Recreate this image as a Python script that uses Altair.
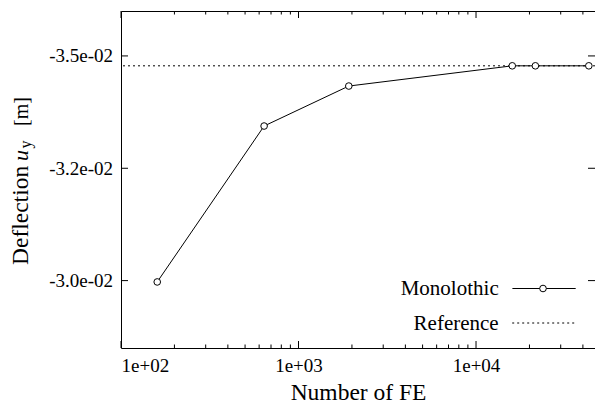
import altair as alt
import pandas as pd

# ---- data ----
n_fe = [160, 640, 1920, 16000, 21600, 43200]
deflection = [-0.02997, -0.03344, -0.03433, -0.03478, -0.03478, -0.03478]
reference_value = -0.03478

x_tick_values = [100, 1000, 10000]
x_tick_labels = ["1e+02", "1e+03", "1e+04"]
x_minor_values = [200, 300, 400, 500, 600, 700, 800, 900,
                  2000, 3000, 4000, 5000, 6000, 7000, 8000, 9000,
                  20000, 30000, 40000]
y_tick_values = [-0.035, -0.0325, -0.030]
y_tick_labels = ["-3.5e-02", "-3.2e-02", "-3.0e-02"]

legend_labels = ["Monolothic", "Reference"]

FONT = "Liberation Serif"
W, H = 474, 337


def label_expr(values, labels):
    expr = "''"
    for v, l in reversed(list(zip(values, labels))):
        expr = f"abs(datum.value - ({v})) < 1e-9 ? '{l}' : ({expr})"
    return expr


xscale = alt.Scale(type="log", domain=[100, 46800], nice=False)
yscale = alt.Scale(domain=[-0.0285, -0.036], nice=False, zero=False)

xaxis = alt.Axis(values=x_tick_values, labelExpr=label_expr(x_tick_values, x_tick_labels),
                 ticks=False, domain=False, grid=False, labelFont=FONT, labelFontSize=19,
                 labelColor="black", labelBaseline="alphabetic", labelPadding=23,
                 title="Number of FE", titleFont=FONT, titleFontSize=23.5,
                 titleFontWeight="normal", titleColor="black",
                 titleBaseline="alphabetic", titleY=51)
yaxis = alt.Axis(values=y_tick_values, labelExpr=label_expr(y_tick_values, y_tick_labels),
                 ticks=False, domain=False, grid=False, labelFont=FONT, labelFontSize=19,
                 labelColor="black", labelPadding=8.5, title=None)

df = pd.DataFrame({"x": n_fe, "y": deflection})

line = alt.Chart(df).mark_line(color="black", strokeWidth=1).encode(
    x=alt.X("x:Q", scale=xscale, axis=xaxis),
    y=alt.Y("y:Q", scale=yscale, axis=yaxis),
)
points = alt.Chart(df).mark_point(shape="circle", filled=False, fill="white", fillOpacity=1,
                                  stroke="black", strokeWidth=1, size=44, opacity=1).encode(
    x=alt.X("x:Q", scale=xscale),
    y=alt.Y("y:Q", scale=yscale),
)
ref = alt.Chart(pd.DataFrame({"y": [reference_value]})).mark_rule(
    color="black", strokeWidth=1, strokeDash=[2, 3]).encode(
    y=alt.Y("y:Q", scale=yscale),
)

xmaj = pd.DataFrame({"x": x_tick_values})
xmin = pd.DataFrame({"x": x_minor_values})
ymaj = pd.DataFrame({"y": y_tick_values})


def xticks(data, length):
    bottom = alt.Chart(data).mark_rule(color="black", strokeWidth=1).encode(
        x=alt.X("x:Q", scale=xscale), y=alt.value(H), y2=alt.value(H - length))
    top = alt.Chart(data).mark_rule(color="black", strokeWidth=1).encode(
        x=alt.X("x:Q", scale=xscale), y=alt.value(0), y2=alt.value(length))
    return [bottom, top]


def yticks(data, length):
    left = alt.Chart(data).mark_rule(color="black", strokeWidth=1).encode(
        y=alt.Y("y:Q", scale=yscale), x=alt.value(0), x2=alt.value(length))
    right = alt.Chart(data).mark_rule(color="black", strokeWidth=1).encode(
        y=alt.Y("y:Q", scale=yscale), x=alt.value(W), x2=alt.value(W - length))
    return [left, right]


tick_layers = xticks(xmaj, 7) + xticks(xmin, 3.5) + yticks(ymaj, 7)

# ---- legend ----
LX = 377.7
ROW1, ROW2 = 277.5, 312
leg_text1 = alt.Chart(pd.DataFrame({"label": [legend_labels[0]]})).mark_text(
    font=FONT, fontSize=21, align="right", baseline="alphabetic", color="black").encode(
    text="label:N", x=alt.value(LX), y=alt.value(ROW1 + 6.5))
leg_text2 = alt.Chart(pd.DataFrame({"label": [legend_labels[1]]})).mark_text(
    font=FONT, fontSize=21, align="right", baseline="alphabetic", color="black").encode(
    text="label:N", x=alt.value(LX), y=alt.value(ROW2 + 6.5))
leg_line1 = alt.Chart(pd.DataFrame({"label": [legend_labels[0]]})).mark_rule(
    color="black", strokeWidth=1).encode(
    x=alt.value(LX + 13.7), x2=alt.value(LX + 77), y=alt.value(ROW1))
leg_pt1 = alt.Chart(pd.DataFrame({"label": [legend_labels[0]]})).mark_point(
    shape="circle", filled=False, fill="white", fillOpacity=1, stroke="black",
    strokeWidth=1, size=44, opacity=1).encode(x=alt.value(LX + 44.3), y=alt.value(ROW1))
leg_line2 = alt.Chart(pd.DataFrame({"label": [legend_labels[1]]})).mark_rule(
    color="black", strokeWidth=1, strokeDash=[2, 3]).encode(
    x=alt.value(LX + 13.5), x2=alt.value(LX + 76), y=alt.value(ROW2))


# ---- y title with italic u and subscript y ----
def ytitle_piece(text, ypos, xpos, size, style="normal"):
    return alt.Chart(pd.DataFrame({"t": [text]})).mark_text(
        font=FONT, fontSize=size, fontStyle=style, angle=270, align="left",
        baseline="alphabetic", color="black").encode(
        text="t:N", x=alt.value(xpos), y=alt.value(ypos))


ytitle = [
    ytitle_piece("Deflection", 254, -93, 23.5),
    ytitle_piece("u", 150, -93, 22, "italic"),
    ytitle_piece("y", 137.5, -90.5, 16),
    ytitle_piece("[m]", 115, -93, 20),
]

chart = alt.layer(
    ref, line, points, *tick_layers,
    leg_line1, leg_pt1, leg_line2, leg_text1, leg_text2, *ytitle,
).properties(
    width=W, height=H,
    padding={"left": 113, "top": 3, "right": 0, "bottom": 57},
    autosize=alt.AutoSizeParams(type="none"),
    background="white",
).configure_view(stroke="black", strokeWidth=1)

chart.save("out.html", embed_options={"renderer": "svg", "actions": False})
